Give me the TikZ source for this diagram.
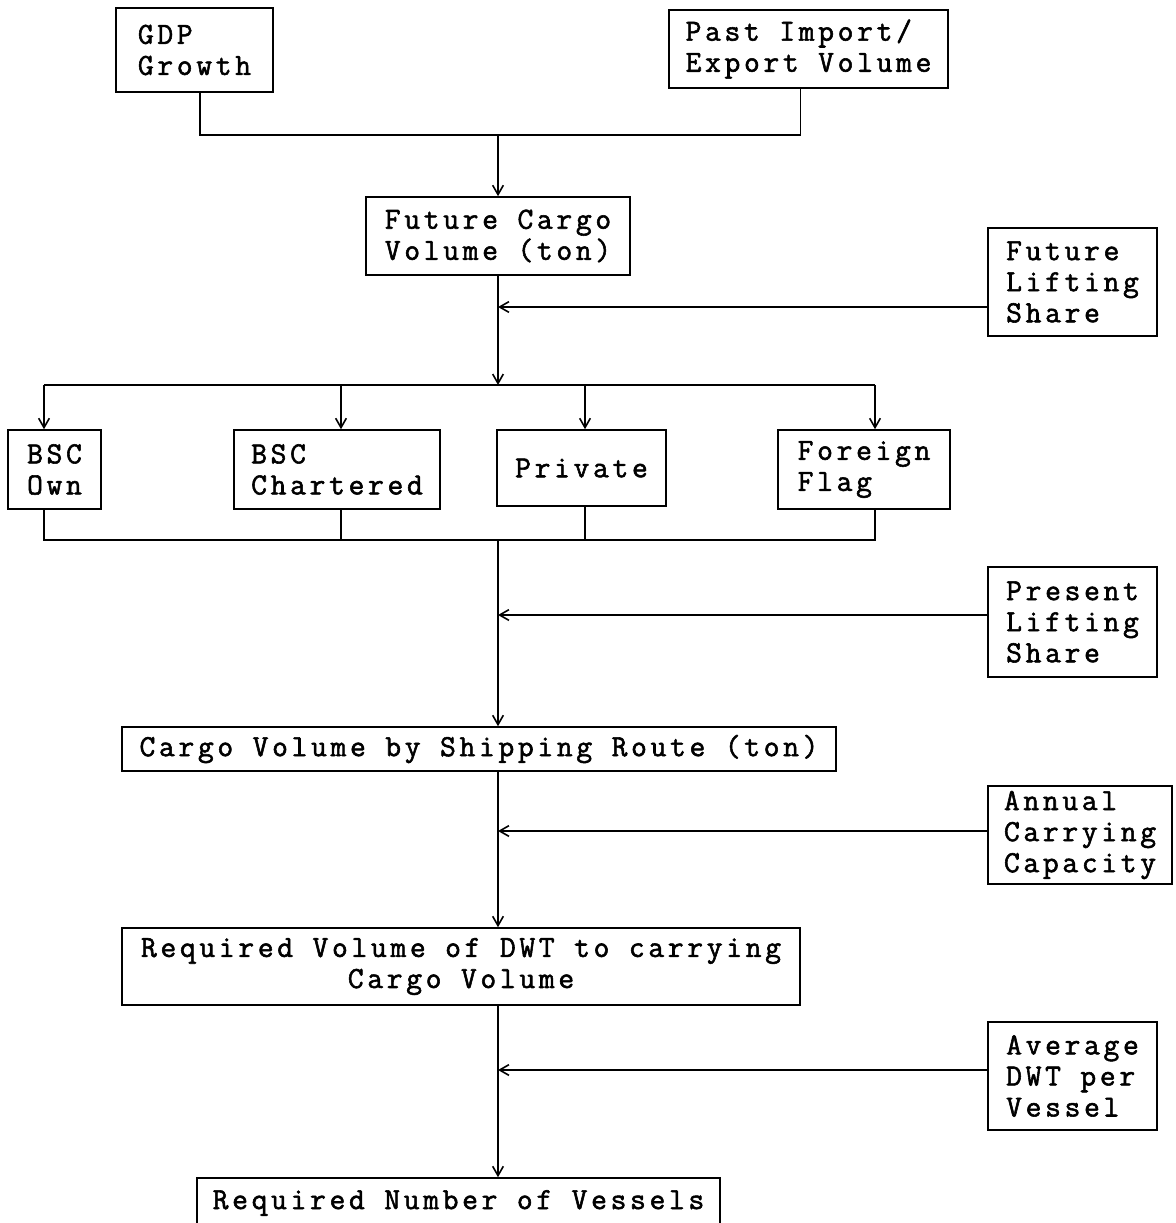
\documentclass[tikz,border=0pt]{standalone}
\usepackage{fontspec}
\newfontfamily\courfont[FakeBold=1.8,LetterSpace=12]{Latin Modern Mono}
\usetikzlibrary{arrows.meta}
\tikzset{every picture/.style={line width=1.2pt}}
\tikzset{
  flowbox/.style={draw, align=left, inner sep=0pt, font=\courfont\fontsize{23}{23.3}\selectfont},
  boxsize/.style 2 args={minimum width=#1*0.75pt, minimum height=#2*0.75pt},
  flowarrow/.style={-{Straight Barb[length=7pt,width=8pt]}}
}

\begin{document}
\begin{tikzpicture}[x=0.75pt,y=0.75pt,yscale=-1,xscale=1]
\useasboundingbox (0,0) rectangle (1176,1223);

%Shape: Rectangle
\node[flowbox, boxsize={157}{84}] (gdp) at (194.5,50) {GDP\\Growth};
%Shape: Rectangle
\node[flowbox, boxsize={279}{78}] (past) at (808.5,49) {Past Import/\\Export Volume};
%Shape: Rectangle
\node[flowbox, boxsize={264}{78}] (future) at (498,236) {Future Cargo\\Volume (ton)};
%Shape: Rectangle
\node[flowbox, boxsize={169}{108}] (fls) at (1072.5,282) {Future\\Lifting\\Share};
%Shape: Rectangle
\node[flowbox, boxsize={93}{79}] (own) at (54.5,469.5) {BSC\\Own};
%Shape: Rectangle
\node[flowbox, boxsize={206}{79}] (chart) at (337,469.5) {BSC\\Chartered};
%Shape: Rectangle
\node[flowbox, boxsize={169}{76}] (priv) at (581.5,468) {Private};
%Shape: Rectangle
\node[flowbox, boxsize={172}{79}] (forf) at (864,469.5) {Foreign\\Flag};
%Shape: Rectangle
\node[flowbox, boxsize={169}{110}] (pls) at (1072.5,622) {Present\\Lifting\\Share};
%Shape: Rectangle
\node[flowbox, boxsize={714}{44}] (route) at (479,749) {Cargo Volume by Shipping Route (ton)};
%Shape: Rectangle
\node[flowbox, boxsize={184}{98}] (acc) at (1080,835) {Annual\\Carrying\\Capacity};
%Shape: Rectangle
\node[flowbox, boxsize={678}{77}, align=center] (dwt) at (461,966.5) {Required Volume of DWT to carrying\\Cargo Volume};
%Shape: Rectangle
\node[flowbox, boxsize={169}{108}] (adpv) at (1072.5,1076) {Average\\DWT per\\Vessel};
%Shape: Rectangle
\node[flowbox, boxsize={523}{50}] (nves) at (458.5,1203) {Required Number of Vessels};

% junction points
\coordinate (s1) at (498,135);
\coordinate (s2) at (498,385);
\coordinate (s3) at (498,540);
\coordinate (k1) at (498,307);
\coordinate (k2) at (498,615);
\coordinate (k3) at (498,831);
\coordinate (k4) at (498,1070);
\coordinate (t1) at (44,385);
\coordinate (t2) at (341,385);
\coordinate (t3) at (585,385);
\coordinate (t4) at (875,385);
\coordinate (u1) at (44,540);
\coordinate (u2) at (341,540);
\coordinate (u3) at (585,540);
\coordinate (u4) at (875,540);

%Straight Lines
\draw ([xshift=4pt]gdp.south) |- (s1);
\draw ([xshift=-6pt]past.south) |- (s1);
\draw[flowarrow] (s1) -- (s1 |- future.north);
%Straight Lines
\draw[flowarrow] (future.south -| s1) -- (s2);
\draw[flowarrow] (fls.west |- k1) -- (k1);
%Straight Lines
\draw (t1) -- (t4);
\draw[flowarrow] (t1) -- (t1 |- own.north);
\draw[flowarrow] (t2) -- (t2 |- chart.north);
\draw[flowarrow] (t3) -- (t3 |- priv.north);
\draw[flowarrow] (t4) -- (t4 |- forf.north);
%Straight Lines
\draw (u1 |- own.south) -- (u1) -- (u4) -- (u4 |- forf.south);
\draw (u2 |- chart.south) -- (u2);
\draw (u3 |- priv.south) -- (u3);
%Straight Lines
\draw[flowarrow] (s3) -- (s3 |- route.north);
\draw[flowarrow] (pls.west |- k2) -- (k2);
\draw[flowarrow] (s3 |- route.south) -- (s3 |- dwt.north);
\draw[flowarrow] (acc.west |- k3) -- (k3);
\draw[flowarrow] (s3 |- dwt.south) -- (s3 |- nves.north);
\draw[flowarrow] (adpv.west |- k4) -- (k4);

\end{tikzpicture}
\end{document}
